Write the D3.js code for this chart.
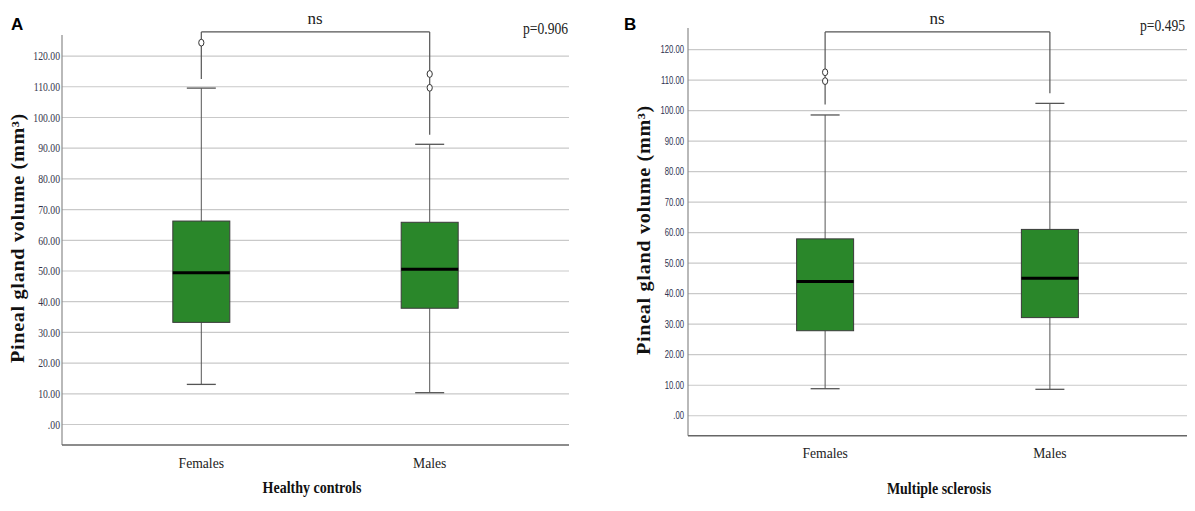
<!DOCTYPE html>
<html>
<head>
<meta charset="utf-8">
<script src="https://cdn.jsdelivr.net/npm/d3@7"></script>
<style>
  body { margin: 0; background: #fff; }
  svg { display: block; }
</style>
</head>
<body>
<div id="chart"></div>
<script>
// categories and tick values
var groups = ["Females", "Males"];
var yTicks = [0, 10, 20, 30, 40, 50, 60, 70, 80, 90, 100, 110, 120];

// panel A - healthy controls
var hcLow = [12.9, 10.2];
var hcQ1 = [33.1, 37.7];
var hcMedian = [49.3, 50.4];
var hcQ3 = [66.1, 65.7];
var hcHigh = [109.4, 91.1];
var hcOutliers = [[124.2], [114.0, 109.5]];
var hcBracketTop = 127.7;
var hcBracketEnds = [112.4, 94.2];

// panel B - multiple sclerosis
var msLow = [8.7, 8.5];
var msQ1 = [27.7, 32.0];
var msMedian = [43.8, 44.9];
var msQ3 = [57.8, 60.9];
var msHigh = [98.4, 102.2];
var msOutliers = [[112.4, 109.5], []];
var msBracketTop = 125.6;
var msBracketEnds = [101.8, 105.5];

var W = 1195, H = 511;
var svg = d3.select("#chart").append("svg")
    .attr("width", W)
    .attr("height", H);

function fmtTick(d) {
    // SPSS style: .00, 10.00 ...
    return d == 0 ? ".00" : d3.format(".2f")(d);
}

function drawPanel(p) {
    let x = d3.scalePoint()
        .domain(groups)
        .range([p.left, p.right])
        .padding(0.61);
    let y = d3.scaleLinear()
        .domain(p.yDomain)
        .range([p.bottom, p.top]);

    let g = svg.append("g");

    // grid + tick labels
    let yAxis = g.append("g")
        .attr("transform", "translate(" + p.left + ",0)")
        .call(d3.axisLeft(y)
            .tickValues(yTicks)
            .tickFormat(fmtTick)
            .tickSize(-(p.right - p.left))
            .tickPadding(p.tickPad));
    yAxis.select(".domain").remove();
    yAxis.selectAll(".tick line")
        .attr("stroke", "#c9c9c9")
        .attr("stroke-width", 1.2);
    yAxis.selectAll(".tick text")
        .attr("fill", p.tickColor)
        .attr("font-family", p.tickFont)
        .attr("font-size", p.tickSize)
        .attr("x", -p.tickPad / p.tickScale)
        .attr("transform", "scale(" + p.tickScale + ",1)");

    // axis lines
    g.append("line")
        .attr("x1", p.left).attr("x2", p.left)
        .attr("y1", p.top).attr("y2", p.bottom)
        .attr("stroke", "#8a8a8a").attr("stroke-width", 1.2);
    g.append("line")
        .attr("x1", p.left).attr("x2", p.right)
        .attr("y1", p.bottom).attr("y2", p.bottom)
        .attr("stroke", "#666").attr("stroke-width", 1.6);

    let boxW = 57, capW = 29;
    groups.forEach(function(k, i) {
        let cx = x(k);
        // whiskers
        g.append("line")
            .attr("x1", cx).attr("x2", cx)
            .attr("y1", y(p.q3[i])).attr("y2", y(p.high[i]))
            .attr("stroke", "#555").attr("stroke-width", 1);
        g.append("line")
            .attr("x1", cx).attr("x2", cx)
            .attr("y1", y(p.q1[i])).attr("y2", y(p.low[i]))
            .attr("stroke", "#555").attr("stroke-width", 1);
        [p.high[i], p.low[i]].forEach(function(v) {
            g.append("line")
                .attr("x1", cx - capW / 2).attr("x2", cx + capW / 2)
                .attr("y1", y(v)).attr("y2", y(v))
                .attr("stroke", "#555").attr("stroke-width", 1.3);
        });
        // box
        g.append("rect")
            .attr("x", cx - boxW / 2)
            .attr("y", y(p.q3[i]))
            .attr("width", boxW)
            .attr("height", y(p.q1[i]) - y(p.q3[i]))
            .attr("fill", "#2a872a")
            .attr("stroke", "#3a3a3a")
            .attr("stroke-width", 1);
        g.append("line")
            .attr("x1", cx - boxW / 2).attr("x2", cx + boxW / 2)
            .attr("y1", y(p.median[i])).attr("y2", y(p.median[i]))
            .attr("stroke", "#000").attr("stroke-width", 3);
        // bracket leg
        g.append("line")
            .attr("x1", cx).attr("x2", cx)
            .attr("y1", y(p.bracketTop)).attr("y2", y(p.bracketEnds[i]))
            .attr("stroke", "#555").attr("stroke-width", 1.2);
        // outliers
        g.selectAll(null)
            .data(p.outliers[i])
            .enter().append("ellipse")
            .attr("cx", cx)
            .attr("cy", function(d) { return y(d); })
            .attr("rx", 2.6).attr("ry", 3.4)
            .attr("fill", "#fff")
            .attr("stroke", "#333")
            .attr("stroke-width", 1);

        // category label
        g.append("text")
            .attr("transform", "translate(" + cx + "," + p.catY + ") scale(0.88,1)")
            .attr("text-anchor", "middle")
            .attr("font-family", "Liberation Serif, serif")
            .attr("font-size", 15.5)
            .attr("fill", "#222")
            .text(k);
    });

    // bracket top
    g.append("line")
        .attr("x1", x(groups[0])).attr("x2", x(groups[1]))
        .attr("y1", y(p.bracketTop)).attr("y2", y(p.bracketTop))
        .attr("stroke", "#555").attr("stroke-width", 1.2);

    g.append("text")
        .attr("x", p.nsX).attr("y", 24)
        .attr("text-anchor", "middle")
        .attr("font-family", "Liberation Serif, serif")
        .attr("font-size", 17)
        .attr("fill", "#222")
        .text("ns");

    g.append("text")
        .attr("transform", "translate(" + p.pX + "," + p.pY + ") scale(0.85,1)")
        .attr("text-anchor", "end")
        .attr("font-family", "Liberation Serif, serif")
        .attr("font-size", 16)
        .attr("fill", "#222")
        .text(p.pText);

    // axis titles
    g.append("text")
        .attr("transform", "translate(" + p.titleX + "," + p.titleY + ") scale(0.8,1)")
        .attr("text-anchor", "middle")
        .attr("font-family", "Liberation Serif, serif")
        .attr("font-weight", "bold")
        .attr("font-size", 17.5)
        .attr("fill", "#111")
        .text(p.title);

    g.append("text")
        .attr("transform", "translate(" + p.ylabX + "," + p.ylabY + ") rotate(-90)")
        .attr("text-anchor", "middle")
        .attr("dominant-baseline", "central")
        .attr("font-family", "Liberation Serif, serif")
        .attr("font-weight", "bold")
        .attr("font-size", 18)
        .attr("letter-spacing", 0.6)
        .attr("textLength", 250)
        .attr("lengthAdjust", "spacingAndGlyphs")
        .attr("fill", "#111")
        .text("Pineal gland volume (mm³)");

    g.append("text")
        .attr("x", p.letterX).attr("y", 30)
        .attr("font-family", "Liberation Sans, Arial, sans-serif")
        .attr("font-weight", "bold")
        .attr("font-size", 17)
        .attr("fill", "#000")
        .text(p.letter);
}

drawPanel({
    letter: "A", letterX: 11,
    left: 62, right: 569, top: 35, bottom: 445,
    yDomain: [-6.84, 126.7],
    low: hcLow, q1: hcQ1, median: hcMedian, q3: hcQ3, high: hcHigh,
    outliers: hcOutliers, bracketTop: hcBracketTop, bracketEnds: hcBracketEnds,
    tickFont: "Liberation Serif, serif", tickSize: 13.5, tickScale: 0.72,
    tickPad: 2, tickColor: "#34344a",
    catY: 468,
    title: "Healthy controls", titleX: 312, titleY: 493,
    ylabX: 18, ylabY: 238,
    nsX: 315, pX: 568, pY: 34, pText: "p=0.906"
});

drawPanel({
    letter: "B", letterX: 624,
    left: 688, right: 1187, top: 28, bottom: 435.7,
    yDomain: [-6.7, 126.9],
    low: msLow, q1: msQ1, median: msMedian, q3: msQ3, high: msHigh,
    outliers: msOutliers, bracketTop: msBracketTop, bracketEnds: msBracketEnds,
    tickFont: "Liberation Sans, Arial, sans-serif", tickSize: 11, tickScale: 0.7,
    tickPad: 4, tickColor: "#2e3350",
    catY: 458,
    title: "Multiple sclerosis", titleX: 939, titleY: 494,
    ylabX: 644, ylabY: 230,
    nsX: 937, pX: 1185, pY: 31, pText: "p=0.495"
});
</script>
</body>
</html>
